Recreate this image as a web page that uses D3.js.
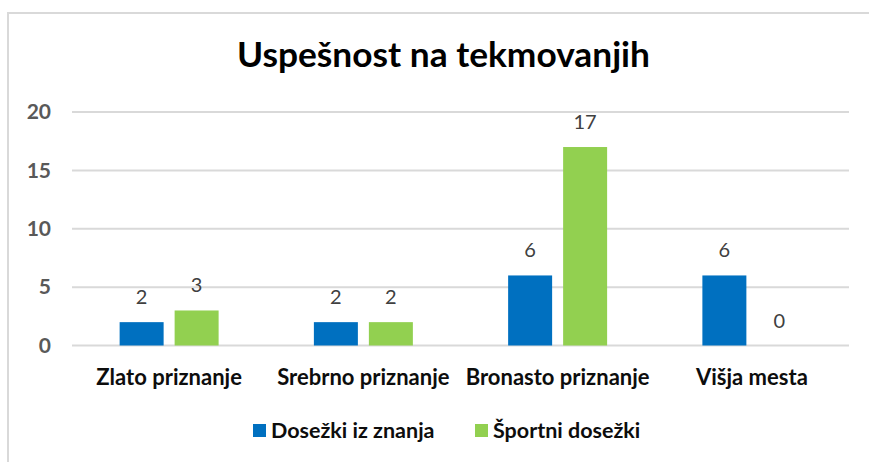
<!DOCTYPE html>
<html>
<head>
<meta charset="utf-8">
<script src="https://cdn.jsdelivr.net/npm/d3@7"></script>
<style>
  html, body { margin: 0; padding: 0; background: #fff; }
  svg { display: block; }
  text { font-family: Lato, "Open Sans", sans-serif; }
</style>
</head>
<body>
<svg id="chart" width="869" height="462"></svg>
<script>
const title = "Uspešnost na tekmovanjih";
const categories = ["Zlato priznanje", "Srebrno priznanje", "Bronasto priznanje", "Višja mesta"];
const seriesNames = ["Dosežki iz znanja", "Športni dosežki"];
const znanjeValues = [2, 2, 6, 6];
const sportValues = [3, 2, 17, 0];
const yTicks = [0, 5, 10, 15, 20];
const colors = ["#0070C0", "#92D050"];

const seriesValues = [znanjeValues, sportValues];
const svg = d3.select("#chart");

// chart frame (light gray border at top and left)
svg.append("line").attr("x1", 7).attr("x2", 869).attr("y1", 13).attr("y2", 13)
  .attr("stroke", "#d9d9d9").attr("stroke-width", 2);
svg.append("line").attr("x1", 8).attr("x2", 8).attr("y1", 12).attr("y2", 462)
  .attr("stroke", "#d9d9d9").attr("stroke-width", 2);

const plotLeft = 72, plotRight = 849, plotTop = 112, plotBottom = 345.5;

const x = d3.scaleBand().domain(categories).range([plotLeft, plotRight]).paddingInner(0).paddingOuter(0);
const x1 = d3.scaleBand().domain(seriesNames).range([0, x.bandwidth()]).paddingInner(0.2).paddingOuter(0.866);
const y = d3.scaleLinear().domain([0, 20]).range([plotBottom, plotTop]);

// title
svg.append("text").attr("x", 443.5).attr("y", 67).attr("text-anchor", "middle")
  .attr("font-size", 34).attr("font-weight", 700).attr("fill", "#000")
  .attr("textLength", 413).attr("lengthAdjust", "spacingAndGlyphs")
  .text(title);

// gridlines
svg.append("g").selectAll("line").data(yTicks).join("line")
  .attr("x1", plotLeft).attr("x2", plotRight)
  .attr("y1", d => y(d)).attr("y2", d => y(d))
  .attr("stroke", "#d9d9d9").attr("stroke-width", 2);

// y axis labels
const yAxis = d3.axisLeft(y).tickValues(yTicks).tickSize(0).tickPadding(0);
const yg = svg.append("g").attr("transform", `translate(51,0)`).call(yAxis);
yg.select(".domain").remove();
yg.selectAll("text").attr("font-size", 21).attr("font-weight", 700).attr("fill", "#595959")
  .attr("font-family", "Lato, sans-serif");

// bars
const groups = svg.append("g").selectAll("g").data(categories).join("g")
  .attr("transform", d => `translate(${x(d)},0)`);

groups.selectAll("rect").data((c, i) => seriesNames.map((s, j) => ({ s, j, v: seriesValues[j][i] })))
  .join("rect")
  .attr("x", d => x1(d.s)).attr("width", x1.bandwidth())
  .attr("y", d => y(d.v)).attr("height", d => y(0) - y(d.v))
  .attr("fill", d => colors[d.j]);

groups.selectAll("text.val").data((c, i) => seriesNames.map((s, j) => ({ s, j, v: seriesValues[j][i] })))
  .join("text").attr("class", "val")
  .attr("x", d => x1(d.s) + x1.bandwidth() / 2)
  .attr("y", d => y(d.v) - 18)
  .attr("text-anchor", "middle").attr("font-size", 20).attr("fill", "#404040")
  .text(d => d.v);

// category axis labels
const xAxis = d3.axisBottom(x).tickSize(0).tickPadding(0);
const xg = svg.append("g").attr("transform", `translate(0,${plotBottom + 24})`).call(xAxis);
xg.select(".domain").remove();
xg.selectAll("text").attr("font-size", 22).attr("font-weight", 700).attr("fill", "#0d0d0d")
  .attr("font-family", "Lato, sans-serif");

// legend
const legendItems = [
  { name: seriesNames[0], color: colors[0], x: 253 },
  { name: seriesNames[1], color: colors[1], x: 475 }
];
const lg = svg.append("g").selectAll("g").data(legendItems).join("g")
  .attr("transform", d => `translate(${d.x},0)`);
lg.append("rect").attr("x", 0).attr("y", 424).attr("width", 13).attr("height", 13)
  .attr("fill", d => d.color);
lg.append("text").attr("x", 18).attr("y", 438).attr("font-size", 21.5).attr("font-weight", 700)
  .attr("fill", "#0d0d0d").text(d => d.name);
</script>
</body>
</html>
